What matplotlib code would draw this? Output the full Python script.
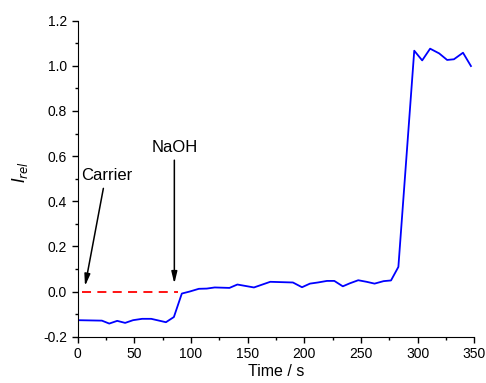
import matplotlib
matplotlib.use("Agg")
import matplotlib.pyplot as plt
from matplotlib.ticker import MultipleLocator

plt.rcParams['font.family'] = ['Liberation Sans', 'DejaVu Sans']

# signal (blue trace)
time_s = [0, 21.5, 28, 35, 42, 49, 57, 65, 78, 85, 92, 99, 107, 114, 121, 134, 141,
          155.6, 170, 190, 198, 205, 212, 220, 226.5, 234, 240, 247.6, 255, 262, 270,
          276.5, 283, 297, 304, 311, 319, 326, 332, 340, 347]
i_rel = [-0.127, -0.129, -0.142, -0.130, -0.139, -0.127, -0.121, -0.121, -0.136, -0.113,
         -0.009, 0.000, 0.012, 0.013, 0.018, 0.016, 0.031,
         0.018, 0.043, 0.040, 0.019, 0.035, 0.040, 0.047, 0.047, 0.023, 0.036, 0.050,
         0.043, 0.035, 0.046, 0.049, 0.109, 1.067, 1.024, 1.076, 1.055, 1.026, 1.029,
         1.058, 0.999]

# carrier baseline (red dashed)
carrier_t = [3.7, 89]
carrier_y = [-0.004, -0.004]

fig = plt.figure(figsize=(4.86, 3.83), dpi=100)
ax = fig.add_axes([0.1595, 0.121, 0.8165, 0.825])

ax.plot(carrier_t, carrier_y, color='#ff0000', linestyle=(0, (5, 3.5)), linewidth=1.3)
ax.plot(time_s, i_rel, color='#0000ff', linewidth=1.3)

ax.set_xlim(0, 350)
ax.set_ylim(-0.2, 1.2)
ax.xaxis.set_major_locator(MultipleLocator(50))
ax.xaxis.set_minor_locator(MultipleLocator(25))
ax.yaxis.set_major_locator(MultipleLocator(0.2))
ax.yaxis.set_minor_locator(MultipleLocator(0.1))
ax.yaxis.set_major_formatter(plt.FuncFormatter(lambda v, p: f"{v:.1f}"))

ax.spines['top'].set_visible(False)
ax.spines['right'].set_visible(False)
ax.tick_params(which='major', direction='out', length=4, width=1, labelsize=10)
ax.tick_params(which='minor', direction='out', length=2.5, width=1)

ax.set_xlabel("Time / s", fontsize=11.5, labelpad=2)
ax.set_ylabel(r"$I_{rel}$", fontsize=12)
ax.yaxis.set_label_coords(-0.12, 0.52)

arrow = dict(arrowstyle='-|>,head_length=0.7,head_width=0.17', color='black', lw=1.1,
             shrinkA=0, shrinkB=0)
ax.annotate("", xy=(6.6, 0.024), xytext=(22.8, 0.457), arrowprops=arrow)
ax.text(26, 0.516, "Carrier", ha='center', va='center', fontsize=12)
ax.annotate("", xy=(85.4, 0.035), xytext=(85.4, 0.582), arrowprops=arrow)
ax.text(85.4, 0.64, "NaOH", ha='center', va='center', fontsize=12)

fig.savefig("out.png", dpi=100)
